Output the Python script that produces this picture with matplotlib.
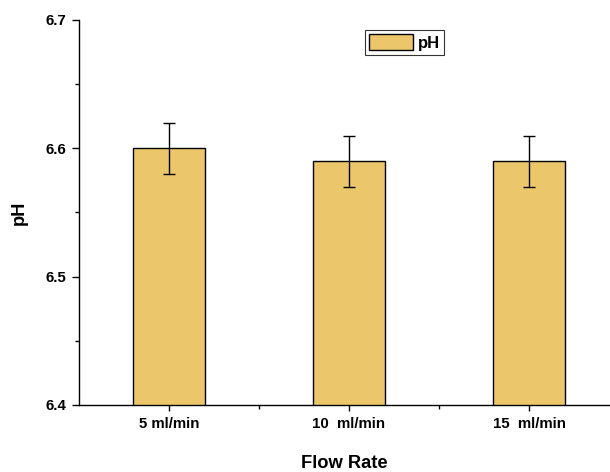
import matplotlib
matplotlib.use("Agg")
import matplotlib.pyplot as plt
from matplotlib.ticker import MultipleLocator, FixedLocator

categories = ["5 ml/min", "10  ml/min", "15  ml/min"]
ph_values = [6.60, 6.59, 6.59]
ph_errors = [0.02, 0.02, 0.02]

plt.rcParams['font.family'] = ['Liberation Sans', 'DejaVu Sans']
plt.rcParams['font.weight'] = 'bold'

fig = plt.figure(figsize=(6.1, 4.72), dpi=100)
ax = fig.add_axes([79/610, 1 - 405/472, 1 - 79/610, (405 - 20)/472])

x = [1, 2, 3]
ax.bar(x, ph_values, width=0.4, color="#EBC66B", edgecolor="black", linewidth=1.0,
       yerr=ph_errors, capsize=4, error_kw=dict(elinewidth=1.0, capthick=1.0, ecolor="black"),
       label="pH", zorder=2)

ax.set_xlim(0.5, 0.5 + (610 - 79) / 180)
ax.set_ylim(6.4, 6.7)
ax.set_xticks(x)
ax.set_xticklabels(categories, fontsize=10.8, fontweight='bold')
ax.xaxis.set_minor_locator(FixedLocator([1.5, 2.5]))
ax.yaxis.set_minor_locator(MultipleLocator(0.05))
ax.set_yticks([6.4, 6.5, 6.6, 6.7])
ax.set_yticklabels(["6.4", "6.5", "6.6", "6.7"], fontsize=10.8, fontweight='bold')

ax.tick_params(axis='y', which='major', direction='out', length=5, width=1, pad=4)
ax.tick_params(axis='x', which='major', direction='out', length=4, width=1, pad=5)
ax.tick_params(axis='both', which='minor', direction='out', length=3, width=1)

for s in ['top', 'right']:
    ax.spines[s].set_visible(False)
for s in ['left', 'bottom']:
    ax.spines[s].set_linewidth(1.0)

ax.set_xlabel("Flow Rate", fontsize=13.2, fontweight='bold', labelpad=17)
ax.set_ylabel("pH", fontsize=13.2, fontweight='bold', labelpad=13)

leg = ax.legend(loc='upper left', bbox_to_anchor=((365 - 79) / 531, 1 - 10/385),
                fontsize=12, frameon=True, fancybox=False, edgecolor='black',
                handlelength=2.6, handleheight=1.1, handletextpad=0.3,
                borderpad=0.25, borderaxespad=0)
leg.get_frame().set_linewidth(0.8)
for t in leg.get_texts():
    t.set_fontweight('bold')

fig.savefig("out.png", dpi=100)
